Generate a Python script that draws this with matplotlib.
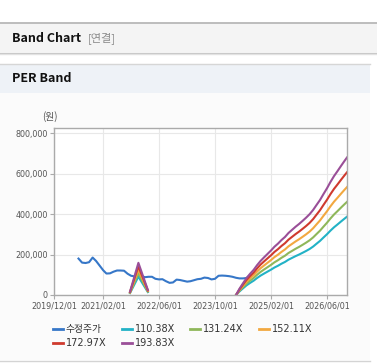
import matplotlib
matplotlib.use("Agg")
import matplotlib.pyplot as plt
import matplotlib.dates as mdates
from matplotlib.patches import Rectangle
from matplotlib.ticker import FuncFormatter
import numpy as np
import pandas as pd

plt.rcParams["font.family"] = ["DejaVu Sans", "Noto Sans CJK KR"]

# ── data ──────────────────────────────────────────────────────────────────────
price_start = "2020-07-01"          # monthly adjusted close (원)
price = [180000, 160000, 158000, 162000, 185000, 168000, 145000, 122000,
         106000, 107000, 115000, 121000, 121000, 120000, 105000, 95000,
         92000, 90000, 92000, 88000, 90000, 90000, 80000, 77000,
         78000, 68000, 60000, 62000, 76000, 74000, 70000, 66000,
         68000, 73000, 78000, 80000, 86000, 84000, 77000, 80000,
         95000, 96000, 95000, 93000, 90000, 85000, 82000, 82000,
         84000, 98000]

# EPS used for the PER band (two separate segments)
eps1_dates = ["2021-09-22", "2021-12-04", "2022-02-24"]
eps1 = [85, 820, 130]

eps2_dates = list(pd.date_range("2024-04-01", periods=32, freq="MS")) + [pd.Timestamp("2026-11-22")]
eps2 = [0, 160, 300, 430, 540, 640, 760, 870, 960, 1050, 1140, 1230,
        1310, 1400, 1480, 1580, 1660, 1740, 1810, 1890, 1970, 2060,
        2170, 2290, 2420, 2570, 2720, 2880, 3030, 3160, 3290, 3420, 3505]

multiples = [110.38, 131.24, 152.11, 172.97, 193.83]
band_labels = ["110.38X", "131.24X", "152.11X", "172.97X", "193.83X"]
band_colors = ["#22b2c6", "#8fb75a", "#f2a840", "#cf3a2e", "#9a4f98"]
price_color = "#3677c8"

xticks = ["2019-12-01", "2021-02-01", "2022-06-01", "2023-10-01", "2025-02-01", "2026-06-01"]
xlim = ("2019-12-01", "2026-11-22")
ylim = (0, 825000)

# ── figure ────────────────────────────────────────────────────────────────────
W, H = 377, 364
fig = plt.figure(figsize=(W / 100, H / 100), dpi=100)

# page decoration in pixel coordinates
bg = fig.add_axes([0, 0, 1, 1], zorder=0)
bg.set_xlim(0, W)
bg.set_ylim(H, 0)
bg.axis("off")
bg.add_patch(Rectangle((0, 23), W, 29, color="#f4f4f4", lw=0))
bg.plot([0, W], [22.5, 22.5], color="#b2b2b2", lw=1.2)
bg.plot([0, W], [52.5, 52.5], color="#c4c4c4", lw=1.0)
bg.plot([0, W], [53.8, 53.8], color="#e2e2e2", lw=1.0)
bg.add_patch(Rectangle((0, 64), 370, 29, color="#eef2f7", lw=0))
bg.plot([0, 370], [63.5, 63.5], color="#d6d6d6", lw=1.0)
bg.add_patch(Rectangle((0, 93), 370, 267, color="#fbfbfb", lw=0))
bg.plot([0, 370], [361, 361], color="#d4d4d4", lw=1.0)
bg.text(12, 38, "Band Chart", fontsize=9.0, fontweight="bold", color="#111111",
        va="center", ha="left", family=["Noto Sans CJK KR", "DejaVu Sans"])
bg.text(88, 38.5, "[연결]", fontsize=8, color="#8a8a8a",
        va="center", ha="left", family=["Noto Sans CJK KR", "DejaVu Sans"])
bg.text(12, 79, "PER Band", fontsize=9.0, fontweight="bold", color="#111111",
        va="center", ha="left", family=["Noto Sans CJK KR", "DejaVu Sans"])
bg.text(50, 117, "(원)", fontsize=7, color="#555555", va="center", ha="center",
        family=["Noto Sans CJK KR", "DejaVu Sans"])

# chart area
ax = fig.add_axes([54 / W, 1 - 295 / H, (347 - 54) / W, (295 - 128) / H], zorder=1)
ax.set_facecolor("white")

price_dates = pd.date_range(price_start, periods=len(price), freq="MS")
handles = []
h, = ax.plot(price_dates, price, color=price_color, lw=1.5, label="수정주가")
handles.append(h)

d1 = pd.to_datetime(eps1_dates)
d2 = pd.to_datetime(eps2_dates)
for m, lab, c in zip(multiples, band_labels, band_colors):
    hb, = ax.plot(d1, np.array(eps1) * m, color=c, lw=1.5, label=lab)
    ax.plot(d2, np.array(eps2) * m, color=c, lw=1.5)
    handles.append(hb)

ax.set_xlim(pd.Timestamp(xlim[0]), pd.Timestamp(xlim[1]))
ax.set_ylim(*ylim)
ax.set_xticks(pd.to_datetime(xticks))
ax.xaxis.set_major_formatter(mdates.DateFormatter("%Y/%m/%d"))
ax.set_yticks(range(0, 800001, 200000))
ax.yaxis.set_major_formatter(FuncFormatter(lambda v, p: f"{int(v):,}"))
ax.tick_params(axis="both", labelsize=5.8, colors="#aaaaaa", labelcolor="#555555",
               length=3, width=0.8, pad=1.5)
ax.grid(True, color="#e8e8e8", lw=0.8)
ax.set_axisbelow(True)
for s in ax.spines.values():
    s.set_color("#aaaaaa")
    s.set_linewidth(1.0)

order = [0, 4, 1, 5, 2, 3]
leg = fig.legend([handles[i] for i in order], [handles[i].get_label() for i in order],
                 ncol=4, loc="upper left", bbox_to_anchor=(53 / W, 1 - 324 / H),
                 frameon=False, fontsize=7, handlelength=1.0, handletextpad=0.3,
                 columnspacing=1.6, labelspacing=0.45, borderpad=0, borderaxespad=0,
                 labelcolor="#333333")
for lh in leg.get_lines():
    lh.set_linewidth(2.0)

fig.savefig("out.png", dpi=100)
